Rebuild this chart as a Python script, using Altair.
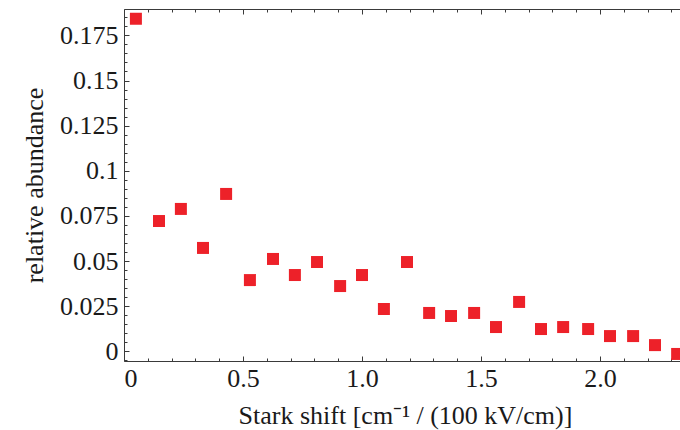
import altair as alt
import pandas as pd

# data
shift = [0.050, 0.147, 0.239, 0.332, 0.429, 0.529, 0.626, 0.718, 0.811, 0.908,
         1.000, 1.092, 1.189, 1.282, 1.374, 1.471, 1.563, 1.660, 1.752, 1.845,
         1.950, 2.042, 2.139, 2.231, 2.324]
abundance = [0.1842, 0.0722, 0.0789, 0.0573, 0.0872, 0.0395, 0.0512, 0.0423, 0.0495, 0.0362,
             0.0423, 0.0235, 0.0495, 0.0213, 0.0196, 0.0213, 0.0135, 0.0274, 0.0124, 0.0135,
             0.0124, 0.0085, 0.0085, 0.0035, -0.0014]

x_major = [0, 0.5, 1.0, 1.5, 2.0]
x_minor = [0.1, 0.2, 0.3, 0.4, 0.6, 0.7, 0.8, 0.9, 1.1, 1.2, 1.3, 1.4,
           1.6, 1.7, 1.8, 1.9, 2.1, 2.2, 2.3]
y_major = [0, 0.025, 0.05, 0.075, 0.1, 0.125, 0.15, 0.175]
y_minor = [-0.005, 0.005, 0.01, 0.015, 0.02, 0.03, 0.035, 0.04, 0.045, 0.055,
           0.06, 0.065, 0.07, 0.08, 0.085, 0.09, 0.095, 0.105, 0.11, 0.115,
           0.12, 0.13, 0.135, 0.14, 0.145, 0.155, 0.16, 0.165, 0.17, 0.18, 0.185]

x_domain = [0, 2.336]
y_domain = [-0.0053, 0.1896]

df = pd.DataFrame({"shift": shift, "abundance": abundance})

FONT = "Liberation Serif"
LINE = "#3a3a3a"
TEXT = "#1a1a1a"

xs = alt.Scale(domain=x_domain, nice=False, zero=False)
ys = alt.Scale(domain=y_domain, nice=False, zero=False)

base = alt.Chart(df)

points = base.mark_square(size=144, color="#ed2129", opacity=1, strokeWidth=0).encode(
    x=alt.X("shift:Q", scale=xs, axis=alt.Axis(
        orient="bottom", values=x_major, domain=True, domainColor=LINE, domainWidth=1,
        ticks=False, tickSize=0, grid=False,
        labelExpr="datum.value == 0 ? '0' : format(datum.value, '.1f')",
        labelFont=FONT, labelFontSize=26, labelColor=TEXT, labelPadding=4,
        title="Stark shift [cm⁻¹ / (100 kV/cm)]",
        titleFont=FONT, titleFontSize=26, titleFontWeight="normal", titleColor=TEXT,
        titleX=281, titleY=62, titleBaseline="alphabetic", titleAlign="center",
    )),
    y=alt.Y("abundance:Q", scale=ys, axis=alt.Axis(
        orient="left", values=y_major, domain=True, domainColor=LINE, domainWidth=1,
        ticks=False, tickSize=0, grid=False, format=".3~f",
        labelFont=FONT, labelFontSize=26, labelColor=TEXT, labelPadding=6,
        labelBaseline="middle",
        title="relative abundance",
        titleFont=FONT, titleFontSize=26, titleFontWeight="normal", titleColor=TEXT,
        titleX=-82, titleY=176, titleAngle=270, titleBaseline="alphabetic", titleAlign="center",
    )),
)


def tick_layer(x_orient, x_vals, y_vals, size):
    xa = alt.Axis(orient=x_orient, values=x_vals, domain=False, labels=False, grid=False,
                  ticks=True, tickSize=size, tickColor=LINE, tickWidth=1, offset=-size, title=None)
    if y_vals is not None:
        ya = alt.Axis(orient="left", values=y_vals, domain=False, labels=False, grid=False,
                      ticks=True, tickSize=size, tickColor=LINE, tickWidth=1, offset=-size, title=None)
    else:
        ya = None
    return base.mark_point(opacity=0, size=1).encode(
        x=alt.X("shift:Q", scale=xs, axis=xa),
        y=alt.Y("abundance:Q", scale=ys, axis=ya),
    )


top_frame = base.mark_point(opacity=0, size=1).encode(
    x=alt.X("shift:Q", scale=xs, axis=alt.Axis(
        orient="top", domain=True, domainColor=LINE, domainWidth=1, ticks=False,
        labels=False, grid=False, title=None, values=x_major)),
    y=alt.Y("abundance:Q", scale=ys, axis=None),
)

chart = alt.layer(
    points,
    tick_layer("bottom", x_major, y_major, 5),
    tick_layer("bottom", x_minor, y_minor, 3),
    top_frame,
    tick_layer("top", x_major, None, 5),
    tick_layer("top", x_minor, None, 3),
).resolve_axis(x="independent", y="independent").properties(
    width=556, height=352,
    autosize="none",
    padding={"left": 124, "top": 9, "right": 0, "bottom": 69},
    background="white",
).configure_view(stroke=None)

chart.save("out.html", embed_options={"renderer": "svg", "actions": False})
